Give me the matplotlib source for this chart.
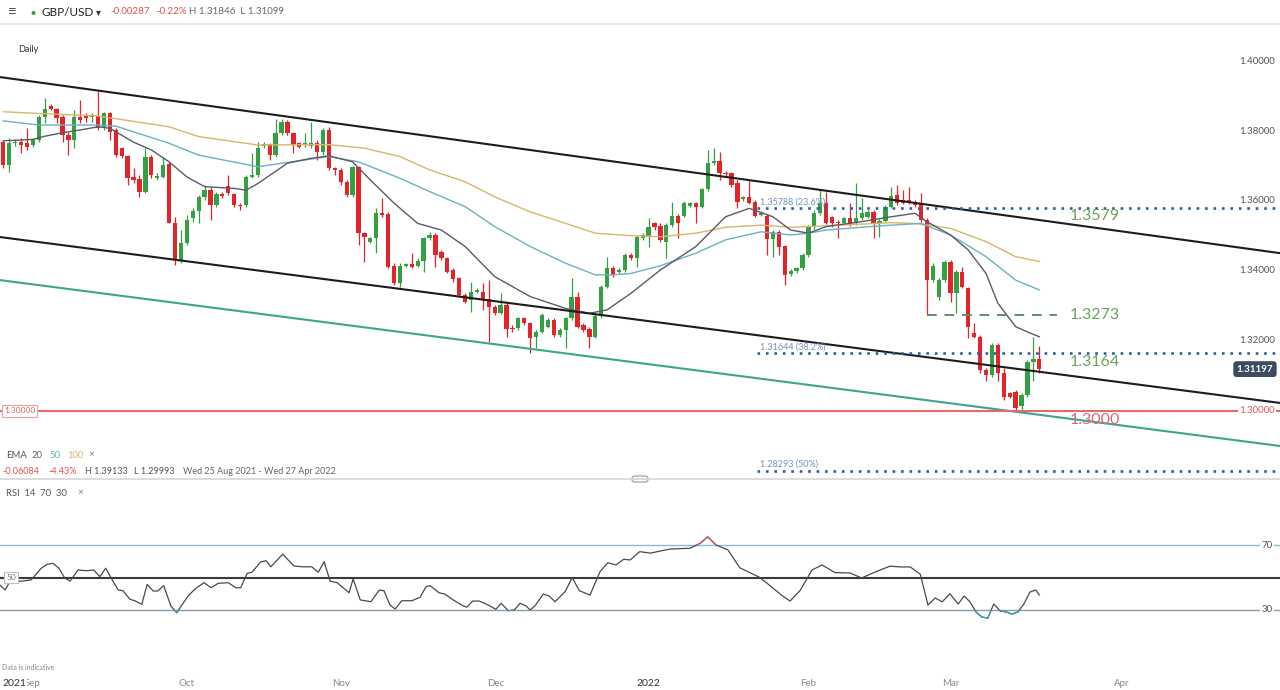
import matplotlib
matplotlib.use('Agg')
import matplotlib.pyplot as plt
from matplotlib import transforms
from matplotlib.patches import Rectangle, FancyBboxPatch

plt.rcParams['font.family'] = ['Lato', 'DejaVu Sans']

W, H = 1280, 690
BAR0, BARW = 3.3, 5.92      # pixel of first bar, pixels per bar

# GBP/USD daily candles, bar 0 = 25 Aug 2021
opens = [
    1.3769, 1.3703, 1.3765, 1.3769, 1.3765, 1.3760, 1.3774, 1.3839, 1.3871, 1.3864,
    1.3839, 1.3789, 1.3774, 1.3839, 1.3846, 1.3841, 1.3843, 1.3808, 1.3852, 1.3803,
    1.3751, 1.3729, 1.3668, 1.3662, 1.3627, 1.3727, 1.3665, 1.3668, 1.3706, 1.3538,
    1.3431, 1.3481, 1.3551, 1.3572, 1.3611, 1.3631, 1.3589, 1.3620, 1.3643, 1.3619,
    1.3589, 1.3589, 1.3668, 1.3674, 1.3757, 1.3763, 1.3731, 1.3795, 1.3826, 1.3795,
    1.3765, 1.3763, 1.3757, 1.3765, 1.3741, 1.3803, 1.3693, 1.3689, 1.3655, 1.3617,
    1.3696, 1.3508, 1.3484, 1.3493, 1.3565, 1.3563, 1.3414, 1.3365, 1.3415, 1.3420,
    1.3414, 1.3429, 1.3493, 1.3503, 1.3453, 1.3436, 1.3403, 1.3379, 1.3331, 1.3317,
    1.3341, 1.3341, 1.3319, 1.3298, 1.3281, 1.3303, 1.3238, 1.3236, 1.3265, 1.3251,
    1.3211, 1.3227, 1.3239, 1.3260, 1.3217, 1.3231, 1.3265, 1.3327, 1.3246, 1.3233,
    1.3212, 1.3271, 1.3355, 1.3409, 1.3398, 1.3403, 1.3446, 1.3436, 1.3493, 1.3498,
    1.3536, 1.3529, 1.3484, 1.3531, 1.3557, 1.3557, 1.3586, 1.3594, 1.3584, 1.3633,
    1.3709, 1.3715, 1.3681, 1.3679, 1.3651, 1.3605, 1.3611, 1.3598, 1.3560, 1.3557,
    1.3491, 1.3512, 1.3470, 1.3392, 1.3400, 1.3408, 1.3446, 1.3525, 1.3567, 1.3594,
    1.3553, 1.3541, 1.3538, 1.3551, 1.3536, 1.3551, 1.3555, 1.3569, 1.3538, 1.3544,
    1.3584, 1.3617, 1.3603, 1.3603, 1.3598, 1.3594, 1.3546, 1.3374, 1.3327, 1.3374,
    1.3427, 1.3338, 1.3398, 1.3351, 1.3222, 1.3212, 1.3117, 1.3103, 1.3189, 1.3108,
    1.3051, 1.3053, 1.3013, 1.3046, 1.3141, 1.31484]
highs = [
    1.3774, 1.3779, 1.3777, 1.3779, 1.3808, 1.3779, 1.3846, 1.3893, 1.3877, 1.3867,
    1.3846, 1.3798, 1.3860, 1.3889, 1.3851, 1.3851, 1.3913, 1.3855, 1.3855, 1.3808,
    1.3755, 1.3731, 1.3693, 1.3674, 1.3751, 1.3731, 1.3679, 1.3727, 1.3712, 1.3555,
    1.3517, 1.3560, 1.3579, 1.3617, 1.3646, 1.3641, 1.3627, 1.3627, 1.3674, 1.3622,
    1.3594, 1.3674, 1.3736, 1.3769, 1.3769, 1.3766, 1.3833, 1.3833, 1.3831, 1.3798,
    1.3769, 1.3795, 1.3826, 1.3774, 1.3808, 1.3812, 1.3698, 1.3693, 1.3660, 1.3700,
    1.3700, 1.3512, 1.3498, 1.3579, 1.3608, 1.3569, 1.3422, 1.3422, 1.3424, 1.3451,
    1.3436, 1.3498, 1.3512, 1.3508, 1.3460, 1.3441, 1.3408, 1.3384, 1.3336, 1.3369,
    1.3351, 1.3365, 1.3374, 1.3303, 1.3336, 1.3308, 1.3246, 1.3269, 1.3269, 1.3255,
    1.3231, 1.3279, 1.3265, 1.3265, 1.3236, 1.3269, 1.3379, 1.3341, 1.3251, 1.3239,
    1.3277, 1.3360, 1.3441, 1.3414, 1.3408, 1.3451, 1.3451, 1.3503, 1.3508, 1.3551,
    1.3541, 1.3536, 1.3536, 1.3598, 1.3563, 1.3600, 1.3598, 1.3598, 1.3638, 1.3746,
    1.3751, 1.3741, 1.3686, 1.3684, 1.3660, 1.3614, 1.3660, 1.3603, 1.3572, 1.3563,
    1.3517, 1.3517, 1.3474, 1.3405, 1.3412, 1.3451, 1.3531, 1.3574, 1.3631, 1.3627,
    1.3557, 1.3546, 1.3555, 1.3594, 1.3651, 1.3608, 1.3574, 1.3574, 1.3548, 1.3589,
    1.3641, 1.3646, 1.3631, 1.3641, 1.3603, 1.3622, 1.3551, 1.3422, 1.3379, 1.3431,
    1.3431, 1.3403, 1.3412, 1.3355, 1.3251, 1.3217, 1.3122, 1.3193, 1.3193, 1.3122,
    1.3055, 1.3060, 1.3051, 1.3146, 1.3212, 1.31846]
lows = [
    1.3694, 1.3684, 1.3757, 1.3736, 1.3746, 1.3755, 1.3769, 1.3822, 1.3860, 1.3822,
    1.3769, 1.3731, 1.3751, 1.3822, 1.3826, 1.3826, 1.3803, 1.3803, 1.3774, 1.3727,
    1.3722, 1.3646, 1.3651, 1.3612, 1.3622, 1.3665, 1.3660, 1.3665, 1.3536, 1.3417,
    1.3422, 1.3474, 1.3541, 1.3536, 1.3603, 1.3546, 1.3584, 1.3608, 1.3617, 1.3584,
    1.3574, 1.3584, 1.3665, 1.3669, 1.3751, 1.3717, 1.3727, 1.3789, 1.3789, 1.3736,
    1.3751, 1.3755, 1.3751, 1.3717, 1.3731, 1.3689, 1.3674, 1.3646, 1.3612, 1.3612,
    1.3474, 1.3427, 1.3479, 1.3451, 1.3555, 1.3408, 1.3360, 1.3355, 1.3412, 1.3408,
    1.3411, 1.3398, 1.3489, 1.3412, 1.3431, 1.3393, 1.3369, 1.3327, 1.3308, 1.3284,
    1.3336, 1.3289, 1.3198, 1.3274, 1.3277, 1.3212, 1.3226, 1.3231, 1.3246, 1.3165,
    1.3179, 1.3222, 1.3236, 1.3212, 1.3212, 1.3179, 1.3260, 1.3236, 1.3226, 1.3179,
    1.3208, 1.3265, 1.3351, 1.3384, 1.3393, 1.3398, 1.3431, 1.3412, 1.3489, 1.3470,
    1.3517, 1.3484, 1.3436, 1.3527, 1.3493, 1.3553, 1.3582, 1.3536, 1.3579, 1.3629,
    1.3703, 1.3660, 1.3671, 1.3641, 1.3579, 1.3601, 1.3591, 1.3553, 1.3557, 1.3446,
    1.3441, 1.3446, 1.3360, 1.3386, 1.3395, 1.3403, 1.3441, 1.3519, 1.3560, 1.3534,
    1.3525, 1.3493, 1.3534, 1.3529, 1.3531, 1.3546, 1.3551, 1.3493, 1.3498, 1.3540,
    1.3579, 1.3589, 1.3591, 1.3591, 1.3584, 1.3541, 1.3273, 1.3369, 1.3317, 1.3369,
    1.3312, 1.3279, 1.3351, 1.3208, 1.3208, 1.3108, 1.3086, 1.3098, 1.3086, 1.3031,
    1.3036, 1.29993, 1.3003, 1.3041, 1.3086, 1.31099]
closes = [
    1.3703, 1.3765, 1.3769, 1.3760, 1.3755, 1.3774, 1.3841, 1.3862, 1.3864, 1.3836,
    1.3789, 1.3774, 1.3839, 1.3831, 1.3836, 1.3846, 1.3808, 1.3852, 1.3798, 1.3731,
    1.3729, 1.3665, 1.3660, 1.3627, 1.3727, 1.3674, 1.3671, 1.3703, 1.3538, 1.3431,
    1.3481, 1.3546, 1.3572, 1.3611, 1.3631, 1.3589, 1.3619, 1.3614, 1.3622, 1.3589,
    1.3586, 1.3668, 1.3674, 1.3751, 1.3763, 1.3731, 1.3795, 1.3826, 1.3793, 1.3760,
    1.3755, 1.3766, 1.3765, 1.3741, 1.3803, 1.3693, 1.3689, 1.3655, 1.3617, 1.3696,
    1.3508, 1.3498, 1.3493, 1.3565, 1.3560, 1.3412, 1.3365, 1.3414, 1.3419, 1.3412,
    1.3429, 1.3493, 1.3503, 1.3446, 1.3436, 1.3398, 1.3376, 1.3331, 1.3312, 1.3341,
    1.3346, 1.3319, 1.3298, 1.3281, 1.3303, 1.3233, 1.3234, 1.3265, 1.3251, 1.3208,
    1.3227, 1.3274, 1.3260, 1.3217, 1.3231, 1.3265, 1.3327, 1.3241, 1.3231, 1.3212,
    1.3271, 1.3355, 1.3408, 1.3389, 1.3403, 1.3446, 1.3436, 1.3498, 1.3503, 1.3527,
    1.3525, 1.3489, 1.3531, 1.3557, 1.3536, 1.3595, 1.3594, 1.3584, 1.3633, 1.3708,
    1.3714, 1.3679, 1.3677, 1.3646, 1.3598, 1.3611, 1.3595, 1.3557, 1.3567, 1.3491,
    1.3512, 1.3470, 1.3389, 1.3400, 1.3408, 1.3446, 1.3525, 1.3567, 1.3594, 1.3538,
    1.3536, 1.3538, 1.3551, 1.3534, 1.3551, 1.3565, 1.3569, 1.3536, 1.3544, 1.3584,
    1.3614, 1.3594, 1.3594, 1.3595, 1.3589, 1.3546, 1.3374, 1.3414, 1.3374, 1.3427,
    1.3338, 1.3398, 1.3355, 1.3241, 1.3212, 1.3117, 1.3103, 1.3189, 1.3108, 1.3041,
    1.3041, 1.3008, 1.3046, 1.3141, 1.31484, 1.31197]
assert len(opens) == len(highs) == len(lows) == len(closes)

# EMA lines, read at sample bars
ema20_x = [0, 5, 7, 10, 13, 16, 18, 22, 25, 28, 31, 34, 39, 41, 43, 48, 52, 55, 59, 62,
           66, 70, 74, 78, 83, 89, 95, 99, 102, 106, 111, 117, 122, 126, 130, 133, 136,
           139, 145, 150, 154, 156, 160, 163, 166, 168, 171, 173, 175]
ema20 = [1.3772, 1.3776, 1.3785, 1.3795, 1.3803, 1.3812, 1.3808, 1.3768, 1.3746, 1.3712,
         1.3669, 1.3641, 1.3636, 1.3631, 1.3650, 1.3708, 1.3722, 1.3729, 1.3712, 1.3660,
         1.3594, 1.3536, 1.3517, 1.3470, 1.3384, 1.3327, 1.3293, 1.3279, 1.3289, 1.3336,
         1.3403, 1.3470, 1.3555, 1.3579, 1.3555, 1.3517, 1.3508, 1.3527, 1.3541, 1.3555,
         1.3565, 1.3541, 1.3503, 1.3460, 1.3393, 1.3308, 1.3241, 1.3226, 1.3212]
ema50_x = [0, 6, 16, 19, 28, 33, 43, 55, 60, 67, 72, 78, 83, 89, 95, 100, 103, 106, 111,
           117, 122, 128, 133, 136, 139, 145, 150, 155, 160, 166, 171, 175]
ema50 = [1.3829, 1.3817, 1.3817, 1.3814, 1.3765, 1.3731, 1.3698, 1.3727, 1.3712, 1.3665,
         1.3627, 1.3584, 1.3527, 1.3470, 1.3422, 1.3389, 1.3389, 1.3393, 1.3415, 1.3451,
         1.3489, 1.3512, 1.3503, 1.3508, 1.3517, 1.3525, 1.3531, 1.3536, 1.3503, 1.3441,
         1.3374, 1.3346]
ema100_x = [0, 5, 16, 28, 33, 43, 55, 61, 67, 72, 78, 83, 89, 95, 100, 106, 111, 117, 122,
            128, 133, 139, 145, 150, 154, 160, 166, 171, 175]
ema100 = [1.3855, 1.3851, 1.3843, 1.3812, 1.3784, 1.3760, 1.3761, 1.3751, 1.3727, 1.3689,
          1.3655, 1.3612, 1.3569, 1.3536, 1.3508, 1.3501, 1.3498, 1.3508, 1.3525, 1.3531,
          1.3525, 1.3529, 1.3534, 1.3538, 1.3536, 1.3522, 1.3484, 1.3441, 1.3427]

# RSI(14)
rsi_x = [-0.6, 0.3, 1.1, 3.2, 4.7, 6.4, 7.4, 8.4, 9.4, 10.4, 11.3, 12.6, 14.0, 15.3, 16.3,
         17.3, 18.4, 19.4, 20.2, 21.4, 22.2, 23.4, 24.3, 25.3, 26.1, 27.1, 28.3, 29.3, 31.2,
         32.5, 33.9, 35.1, 36.3, 38.0, 39.3, 40.1, 41.2, 42.0, 43.5, 44.4, 45.2, 47.2, 49.1,
         50.5, 52.1, 53.2, 54.2, 55.2, 56.4, 58.4, 59.1, 60.3, 62.1, 63.5, 64.3, 65.3, 66.2,
         67.3, 69.0, 70.4, 71.4, 72.1, 73.6, 74.6, 76.0, 77.7, 78.3, 79.3, 80.4, 81.9, 83.2,
         84.1, 85.3, 86.3, 87.3, 88.3, 89.0, 89.8, 91.2, 92.2, 93.2, 94.9, 96.1, 97.3, 99.1,
         100.8, 102.1, 103.5, 104.8, 105.9, 107.5, 109.3, 112.6, 116.0, 117.7, 119.0, 120.4,
         122.4, 124.4, 126.1, 127.8, 129.5, 131.5, 132.9, 134.6, 136.6, 138.3, 140.5, 143.0,
         145.0, 146.4, 148.1, 149.8, 151.5, 153.2, 154.9, 156.2, 157.4, 158.6, 159.9, 161.3,
         162.3, 163.3, 164.3, 165.3, 166.3, 167.3, 168.4, 169.4, 170.4, 171.4, 172.4, 173.4,
         174.4, 175.0]
rsi = [45.4, 42.3, 47.4, 47.8, 48.5, 55.7, 58.1, 58.7, 55.7, 49.5, 47.8, 54.6, 54.2, 54.6,
       50.5, 55.7, 48.5, 42.3, 41.9, 36.6, 35.7, 33.5, 45.8, 41.7, 41.7, 45.0, 32.5, 28.3,
       38.6, 43.3, 46.8, 43.7, 46.4, 46.8, 43.7, 43.7, 52.6, 53.2, 59.7, 60.3, 56.6, 64.3,
       57.1, 56.6, 56.6, 53.2, 59.7, 47.8, 46.8, 40.6, 49.1, 36.2, 35.1, 42.3, 41.9, 33.1,
       30.6, 35.7, 35.7, 37.8, 44.3, 45.0, 40.6, 39.8, 36.2, 32.5, 31.7, 35.5, 35.5, 33.1,
       30.4, 34.1, 29.6, 30.0, 34.1, 32.5, 30.0, 32.5, 39.8, 38.6, 35.1, 41.3, 49.9, 41.9,
       39.2, 53.6, 59.1, 57.7, 61.2, 60.8, 65.9, 65.0, 67.5, 68.0, 71.0, 75.0, 70.0, 67.0,
       56.0, 53.0, 50.0, 45.0, 39.0, 35.5, 42.0, 54.6, 57.7, 53.0, 52.8, 49.7, 52.0, 54.6,
       57.0, 56.5, 56.5, 52.0, 33.0, 37.4, 35.0, 40.0, 33.7, 38.6, 35.0, 28.8, 25.7, 25.0,
       33.7, 29.4, 28.8, 27.5, 28.8, 33.7, 41.0, 42.3, 39.2]

# drawings
chan_x = [-0.56, 215.66]
upper_chan = [1.3954, 1.3451]
lower_chan = [1.3497, 1.3023]
outer_chan = [1.3374, 1.2900]
fib_levels = [1.35788, 1.31644, 1.28293]
fib_labels = ['1.35788 (23.6%)', '1.31644 (38.2%)', '1.28293 (50%)']
key_levels = ['1.3579', '1.3273', '1.3164', '1.3000']
key_pos = [1.3557, 1.3274, 1.3140, 1.2974]
key_cols = ['#69a45a', '#69a45a', '#69a45a', '#d9667a']
price_ticks = [1.40, 1.38, 1.36, 1.34, 1.32, 1.30]
month_pos = [4.9, 31.0, 57.0, 83.1, 108.9, 135.9, 160.1, 189.0]
month_lbl = ['Sep', 'Oct', 'Nov', 'Dec', '2022', 'Feb', 'Mar', 'Apr']

fig = plt.figure(figsize=(W / 100, H / 100), dpi=100)
fig.patch.set_facecolor('white')


def px_axes(x0, y0, x1, y1):
    return fig.add_axes([x0 / W, 1 - y1 / H, (x1 - x0) / W, (y1 - y0) / H])


def ftext(x, y, s, **kw):
    kw.setdefault('va', 'center')
    return fig.text(x / W, 1 - y / H, s, **kw)


xlim = (-BAR0 / BARW, (W - BAR0) / BARW)

# ---- price pane
ax = px_axes(0, 25, W, 478)
ax.set_xlim(*xlim)
ax.set_ylim(1.40 - (478 - 61) / 3500, 1.40 - (25 - 61) / 3500)
ax.axis('off')

idx = list(range(len(opens)))
up, dn = '#35a043', '#e3242b'
cols = [up if c >= o else dn for o, c in zip(opens, closes)]
ax.vlines(idx, lows, highs, colors=cols, lw=0.9, zorder=3)
ax.bar(idx, [max(abs(c - o), 0.00012) for o, c in zip(opens, closes)],
       bottom=[min(o, c) for o, c in zip(opens, closes)],
       width=0.72, color=cols, lw=0, zorder=3)

ax.plot(ema100_x, ema100, color='#d9b56c', lw=1.0, zorder=4)
ax.plot(ema50_x, ema50, color='#6cb0c0', lw=1.0, zorder=4)
ax.plot(ema20_x, ema20, color='#5b5a6a', lw=1.0, zorder=4)

ax.plot(chan_x, upper_chan, color='#1c1c1c', lw=1.5, zorder=5)
ax.plot(chan_x, lower_chan, color='#1c1c1c', lw=1.5, zorder=5)
ax.plot(chan_x, outer_chan, color='#3da58d', lw=1.5, zorder=5)
ax.axhline(1.30, color='#e36b6b', lw=1.5, zorder=5)

fib_start = 127.3
for lvl, lab in zip(fib_levels, fib_labels):
    ax.plot([fib_start, xlim[1]], [lvl, lvl], color='#2c5ea8', lw=1.9,
            ls=(0, (1, 2.2)), zorder=6)
    ax.text(fib_start + 0.6, lvl + 0.0019, lab, fontsize=6.5, color='#7294bd',
            va='center', zorder=7)

ax.plot([156, 178], [1.3273, 1.3273], color='#5f8f6f', lw=1.4, ls=(0, (5, 4)), zorder=6)

for lab, pos, col in zip(key_levels, key_pos, key_cols):
    ax.text(180.2, pos, lab, fontsize=11.5, color=col, va='center', zorder=8)

blend = transforms.blended_transform_factory(ax.transAxes, ax.transData)
for t in price_ticks:
    kw = dict(transform=blend, ha='right', va='center', fontsize=7, zorder=9)
    if t == 1.30:
        ax.text(1275 / W, t, f'{t:.5f}', color='#d55a5a',
                bbox=dict(boxstyle='square,pad=0.15', fc='white', ec='none'), **kw)
    else:
        ax.text(1275 / W, t, f'{t:.5f}', color='#555555', **kw)

ax.text(1255 / W, closes[-1], f'{closes[-1]:.5f}', transform=blend, ha='center',
        va='center', fontsize=7, color='white', fontweight='bold', zorder=10,
        bbox=dict(boxstyle='round,pad=0.35', fc='#3c4a62', ec='none'))
ax.text(4 / W, 1.30, '1.30000', transform=blend, ha='left', va='center', fontsize=6,
        color='#e06060', zorder=10,
        bbox=dict(boxstyle='square,pad=0.25', fc='white', ec='#eea0a0', lw=0.8))

# ---- RSI pane
ax2 = px_axes(0, 485, W, 662)
ax2.set_xlim(*xlim)
ax2.set_ylim(70 - (662 - 545) / 1.625, 70 + (545 - 485) / 1.625)
ax2.axis('off')
ax2.axhline(70, color='#88bcd6', lw=1.0)
ax2.axhline(50, color='#3a3a3a', lw=1.5)
ax2.axhline(30, color='#8e9aa6', lw=1.0)
ax2.plot(rsi_x, rsi, color='#4a4a4a', lw=0.9, zorder=4)
hot, = ax2.plot(rsi_x, rsi, color='#e05555', lw=0.9, zorder=5)
hot.set_clip_path(Rectangle((xlim[0], 70), xlim[1] - xlim[0], 60, transform=ax2.transData))
cold, = ax2.plot(rsi_x, rsi, color='#3c9fb4', lw=0.9, zorder=5)
cold.set_clip_path(Rectangle((xlim[0], -10), xlim[1] - xlim[0], 40, transform=ax2.transData))

blend2 = transforms.blended_transform_factory(ax2.transAxes, ax2.transData)
ax2.text(11 / W, 50, '50', transform=blend2, ha='center', va='center', fontsize=6,
         color='#777777', zorder=9,
         bbox=dict(boxstyle='square,pad=0.25', fc='white', ec='#c0c0c0', lw=0.8))
for lv in (70, 30):
    ax2.text(1267 / W, lv, str(lv), transform=blend2, ha='center', va='center',
             fontsize=7, color='#555555', zorder=9,
             bbox=dict(boxstyle='square,pad=0.1', fc='white', ec='none'))

# month axis
mblend = transforms.blended_transform_factory(ax2.transData, fig.transFigure)
for pos, lab in zip(month_pos, month_lbl):
    dark = lab.isdigit()
    fig.text(pos, 1 - 683 / H, lab, transform=mblend, ha='center', va='center',
             fontsize=7.5 if dark else 7, color='#333333' if dark else '#888888')
ftext(2, 683, '2021', fontsize=7.5, color='#333333', ha='left',
      bbox=dict(boxstyle='square,pad=0.1', fc='white', ec='none'))
ftext(2, 668, 'Data is indicative', fontsize=5, color='#888888', ha='left')

# ---- header and legends
fig.add_artist(plt.Line2D([0, 1], [1 - 24 / H] * 2, color='#e6e6e6', lw=1.5))
fig.add_artist(plt.Line2D([0, 1], [1 - 479 / H] * 2, color='#d6d6d6', lw=1.2))
fig.add_artist(FancyBboxPatch((632 / W, 1 - 482 / H), 16 / W, 6 / H,
                              boxstyle='round,pad=0,rounding_size=0.003',
                              fc='white', ec='#999999', lw=0.8, transform=fig.transFigure))

ftext(12, 12, '≡', fontsize=11, color='#555555', ha='center')
ftext(33, 12, '●', fontsize=6, color='#2e9e44', ha='center')
ftext(41, 12, 'GBP/USD', fontsize=8.5, color='#222222', ha='left')
ftext(98, 13, '▾', fontsize=7, color='#333333', ha='center')
ftext(110, 12, '-0.00287', fontsize=7, color='#d9534f', ha='left')
ftext(156, 12, '-0.22%', fontsize=7, color='#d9534f', ha='left')
ftext(189, 12, 'H 1.31846  L 1.31099', fontsize=7, color='#666666', ha='left')
ftext(18, 49, 'Daily', fontsize=6.5, color='#333333', ha='left')

ftext(6, 455, 'EMA', fontsize=6.8, color='#555555', ha='left')
ftext(32, 455, '20', fontsize=6.8, color='#666666', ha='left')
ftext(49, 455, '50', fontsize=6.8, color='#6cb0c0', ha='left')
ftext(67, 455, '100', fontsize=6.8, color='#d9b56c', ha='left')
ftext(88, 455, '×', fontsize=7, color='#777777', ha='left')
ftext(2, 472, '-0.06084', fontsize=6.5, color='#d9534f', ha='left')
ftext(48, 472, '-4.43%', fontsize=6.5, color='#d9534f', ha='left')
ftext(85, 472, 'H 1.39133', fontsize=6.5, color='#555555', ha='left')
ftext(134, 472, 'L 1.29993', fontsize=6.5, color='#555555', ha='left')
ftext(183, 472, 'Wed 25 Aug 2021 - Wed 27 Apr 2022', fontsize=6.5, color='#666666', ha='left')
ftext(6, 493, 'RSI  14  70  30', fontsize=6.8, color='#555555', ha='left')
ftext(77, 493, '×', fontsize=7, color='#777777', ha='left')

fig.savefig('out.png', dpi=100, facecolor='white')
